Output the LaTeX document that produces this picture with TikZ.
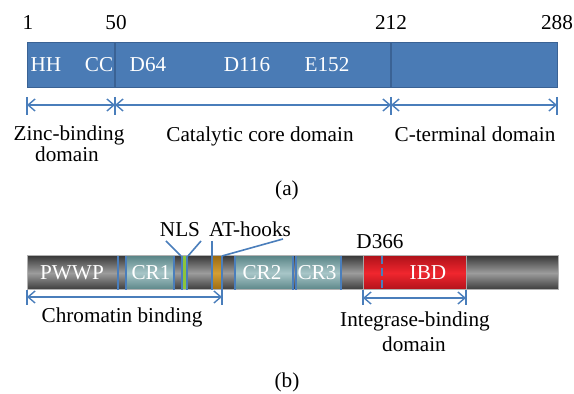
\documentclass[tikz,border=0pt]{standalone}
\usepackage{fontspec}
\setmainfont{Liberation Serif}
\usetikzlibrary{arrows.meta}
\definecolor{barblue}{HTML}{4A7BB5}
\definecolor{barline}{HTML}{3A6294}
\definecolor{lblue}{HTML}{4A7EBB}
\definecolor{gdark}{HTML}{3A3A3A}
\definecolor{glight}{HTML}{9C9C9C}
\definecolor{tdark}{HTML}{5A8587}
\definecolor{tlight}{HTML}{A8C6C8}
\definecolor{rdark}{HTML}{B0121A}
\definecolor{rlight}{HTML}{F0262E}
\definecolor{ngreen}{HTML}{8CC43C}
\definecolor{odark}{HTML}{9A6A12}
\definecolor{olight}{HTML}{D39E35}
\begin{document}
\begin{tikzpicture}[x=0.5pt,y=-0.5pt,
  every node/.style={inner sep=0pt, outer sep=0pt, font=\fontsize{10.6}{12}\selectfont},
  dimarrow/.style={draw=lblue, line width=0.7pt, {Straight Barb[length=3.5pt,width=6pt]}-{Straight Barb[length=3.5pt,width=6pt]}},
  tickline/.style={draw=lblue, line width=0.7pt},
  divline/.style={draw=lblue, line width=0.8pt},
  inbar/.style={text=white, anchor=base},
  lab/.style={text=black, anchor=base},
  grayseg/.style={top color=gdark, bottom color=gdark, middle color=glight},
  tealseg/.style={top color=tdark, bottom color=tdark, middle color=tlight},
  redseg/.style={top color=rdark, bottom color=rdark, middle color=rlight},
  orseg/.style={top color=odark, bottom color=odark, middle color=olight}]
\useasboundingbox (0,0) rectangle (574,394);

% ---------- (a) ----------
\fill[barblue] (27,43) rectangle (557,88);
\draw[barline, line width=0.5pt] (27,43) rectangle (557,88);
\draw[barline, line width=0.6pt] (115,43) -- (115,88);
\draw[barline, line width=0.6pt] (391,43) -- (391,88);

\node[lab] (n1) at (28,30) {1};
\node[lab] (n50) at (116,30) {50};
\node[lab] (n212) at (391,30) {212};
\node[lab] (n288) at (557,30) {288};

\node[inbar] (hh) at (46,72) {HH};
\node[inbar] (cc) at (99,72) {CC};
\node[inbar] (d64) at (148,72) {D64};
\node[inbar] (d116) at (247,72) {D116};
\node[inbar] (e152) at (327,72) {E152};

\coordinate (a0t) at (27,97);  \coordinate (a0b) at (27,115);
\coordinate (a1t) at (115,97); \coordinate (a1b) at (115,115);
\coordinate (a2t) at (391,97); \coordinate (a2b) at (391,115);
\coordinate (a3t) at (557,97); \coordinate (a3b) at (557,115);
\draw[tickline] (a0t) -- (a0b);
\draw[tickline] (a1t) -- (a1b);
\draw[tickline] (a2t) -- (a2b);
\draw[tickline] (a3t) -- (a3b);
\coordinate (ar0) at (27,105); \coordinate (ar1) at (115,105);
\coordinate (ar2) at (391,105); \coordinate (ar3) at (557,105);
\draw[dimarrow] (ar0) -- (ar1);
\draw[dimarrow] (ar1) -- (ar2);
\draw[dimarrow] (ar2) -- (ar3);

\node[lab] (zinc) at (69,141) {Zinc-binding};
\node[lab] (zincb) at (67,162) {domain};
\node[lab] (cat) at (260,142) {Catalytic core domain};
\node[lab] (cterm) at (475,142) {C-terminal domain};
\node[lab] (capa) at (287,196) {(a)};

% ---------- (b) ----------
\shade[grayseg] (27,256) rectangle (558,290);
\shade[tealseg] (126,256) rectangle (174,290);
\fill[ngreen] (182,256) rectangle (187,290);
\shade[orseg] (212,256) rectangle (222,290);
\shade[tealseg] (235,256) rectangle (293,290);
\shade[tealseg] (296,256) rectangle (341,290);
\shade[redseg] (363,256) rectangle (466,290);
\draw[gray!70, line width=0.5pt] (363,256) rectangle (466,290);
\draw[gray!60, line width=0.5pt] (27,256) rectangle (558,290);

\draw[divline] (118,256) -- (118,290);
\draw[divline] (126,256) -- (126,290);
\draw[divline] (174,256) -- (174,290);
\draw[divline] (182,256) -- (182,290);
\draw[divline] (187,256) -- (187,290);
\draw[divline] (235,256) -- (235,290);
\draw[divline] (293,256) -- (293,290);
\draw[divline] (296,256) -- (296,290);
\draw[divline] (341,256) -- (341,290);
\draw[divline, dashed, dash pattern=on 4pt off 2pt] (382,256) -- (382,290);

\node[inbar] (pwwp) at (72,280) {PWWP};
\node[inbar] (cr1) at (151,280) {CR1};
\node[inbar] (cr2) at (262,280) {CR2};
\node[inbar] (cr3) at (317,280) {CR3};
\node[inbar] (ibd) at (428,280) {IBD};

\node[lab] (nls) at (180,237) {NLS};
\node[lab] (athooks) at (250,237) {AT-hooks};
\node[lab] (d366) at (380,249) {D366};

\coordinate (nlsL) at (166,241); \coordinate (nlsLb) at (181,256);
\coordinate (nlsR) at (201,241); \coordinate (nlsRb) at (188,256);
\draw[divline] (nlsL) -- (nlsLb);
\draw[divline] (nlsR) -- (nlsRb);
\coordinate (v212t) at (212,241); \coordinate (v212b) at (212,290);
\draw[divline] (v212t) -- (v212b);
\coordinate (atL) at (283,239); \coordinate (atB) at (222,256);
\draw[divline] (atL) -- (atB);
\coordinate (v222b) at (222,305);
\draw[divline] (atB) -- (v222b);

\coordinate (c0t) at (27,290); \coordinate (c0b) at (27,305);
\draw[tickline] (c0t) -- (c0b);
\coordinate (i0t) at (363,290); \coordinate (i0b) at (363,305);
\coordinate (i1t) at (466,290); \coordinate (i1b) at (466,305);
\draw[tickline] (i0t) -- (i0b);
\draw[tickline] (i1t) -- (i1b);
\coordinate (cr0) at (27,297); \coordinate (cr1e) at (222,297);
\coordinate (ir0) at (363,298); \coordinate (ir1) at (466,298);
\draw[dimarrow] (cr0) -- (cr1e);
\draw[dimarrow] (ir0) -- (ir1);

\node[lab] (chrom) at (122,323) {Chromatin binding};
\node[lab] (integ) at (415,327) {Integrase-binding};
\node[lab] (integb) at (414,352) {domain};
\node[lab] (capb) at (287,388) {(b)};
\end{tikzpicture}
\end{document}
